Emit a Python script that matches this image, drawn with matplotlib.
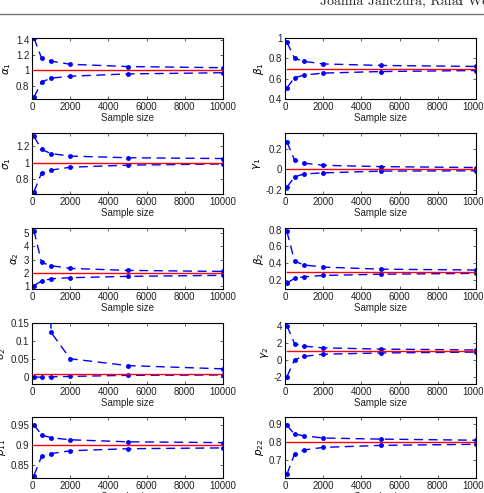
import numpy as np
import matplotlib
matplotlib.use('Agg')
import matplotlib.pyplot as plt
from matplotlib.lines import Line2D

# sample sizes used in the simulation
n = [100, 500, 1000, 2000, 5000, 10000]

# upper / lower bands and true value for every parameter
a1_up = [1.42, 1.16, 1.12, 1.08, 1.05, 1.035]
a1_lo = [0.65, 0.85, 0.90, 0.925, 0.955, 0.97]
b1_up = [0.96, 0.80, 0.77, 0.745, 0.73, 0.72]
b1_lo = [0.51, 0.61, 0.635, 0.655, 0.67, 0.68]
s1_up = [1.32, 1.16, 1.11, 1.08, 1.06, 1.05]
s1_lo = [0.645, 0.875, 0.91, 0.945, 0.97, 0.985]
g1_up = [0.265, 0.09, 0.06, 0.04, 0.027, 0.018]
g1_lo = [-0.17, -0.072, -0.043, -0.033, -0.016, -0.013]
a2_up = [5.2, 2.8, 2.55, 2.35, 2.2, 2.12]
a2_lo = [1.05, 1.4, 1.57, 1.65, 1.75, 1.83]
b2_up = [0.78, 0.425, 0.38, 0.355, 0.33, 0.32]
b2_lo = [0.165, 0.22, 0.24, 0.255, 0.27, 0.28]
s2_up = [2.5, 1.0, 0.124, 0.051, 0.032, 0.023]
s2_lo = [0.0, 0.0, 0.001, 0.002, 0.005, 0.006]
g2_up = [4.0, 1.9, 1.6, 1.4, 1.25, 1.15]
g2_lo = [-2.0, 0.0, 0.4, 0.65, 0.8, 0.9]
p11_up = [0.95, 0.925, 0.918, 0.913, 0.908, 0.906]
p11_lo = [0.825, 0.872, 0.879, 0.886, 0.891, 0.893]
p22_up = [0.89, 0.843, 0.834, 0.822, 0.816, 0.81]
p22_lo = [0.625, 0.735, 0.757, 0.771, 0.782, 0.788]

true_vals = [1, 0.7, 1, 0, 2, 0.3, 0.01, 1, 0.9, 0.8]
labels = [r'$\alpha_1$', r'$\beta_1$', r'$\sigma_1$', r'$\gamma_1$', r'$\alpha_2$',
          r'$\beta_2$', r'$\sigma_2$', r'$\gamma_2$', r'$p_{11}$', r'$p_{22}$']
uppers = [a1_up, b1_up, s1_up, g1_up, a2_up, b2_up, s2_up, g2_up, p11_up, p22_up]
lowers = [a1_lo, b1_lo, s1_lo, g1_lo, a2_lo, b2_lo, s2_lo, g2_lo, p11_lo, p22_lo]
ylims = [(0.63, 1.42), (0.4, 1.0), (0.62, 1.36), (-0.236, 0.35), (0.8, 5.39),
         (0.094, 0.82), (-0.019, 0.15), (-2.85, 4.32), (0.819, 0.969), (0.605, 0.936)]
yticks = [[0.8, 1, 1.2, 1.4], [0.4, 0.6, 0.8, 1], [0.8, 1, 1.2], [-0.2, 0, 0.2],
          [1, 2, 3, 4, 5], [0.2, 0.4, 0.6, 0.8], [0, 0.05, 0.1, 0.15],
          [-2, 0, 2, 4], [0.85, 0.9, 0.95], [0.7, 0.8, 0.9]]
yticklabels = [['0.8', '1', '1.2', '1.4'], ['0.4', '0.6', '0.8', '1'], ['0.8', '1', '1.2'],
               ['-0.2', '0', '0.2'], ['1', '2', '3', '4', '5'], ['0.2', '0.4', '0.6', '0.8'],
               ['0', '0.05', '0.1', '0.15'], ['-2', '0', '2', '4'],
               ['0.85', '0.9', '0.95'], ['0.7', '0.8', '0.9']]

W, H = 484, 493
fig = plt.figure(figsize=(W / 100, H / 100), dpi=100)
plt.rcParams['font.family'] = 'Liberation Sans'

# header of the scanned page (cut at the top and right edge)
fig.text(320 / W, 1 - 4 / H, 'Joanna Janczura, Rafa\u0142 Weron', family=['cmr10', 'DejaVu Serif'],
         fontsize=10, ha='left', va='baseline', color='#222222')
fig.add_artist(Line2D([0, 1], [1 - 13.5 / H, 1 - 13.5 / H], color='#777777', lw=1.0,
                      transform=fig.transFigure))

col_x = [32, 285]
col_w = 191
row_top = [38, 133, 228, 323, 417]
row_h = 61

for i in range(10):
    r, c = i // 2, i % 2
    ax = fig.add_axes([col_x[c] / W, 1 - (row_top[r] + row_h) / H, col_w / W, row_h / H])
    ax.plot(n, uppers[i], color='blue', ls=(0, (6.5, 4)), lw=1, marker='.', ms=5)
    ax.plot(n, lowers[i], color='blue', ls=(0, (6.5, 4)), lw=1, marker='.', ms=5)
    ax.plot(n, [true_vals[i]] * len(n), color='red', lw=1)
    ax.set_xlim(0, 10000)
    ax.set_ylim(*ylims[i])
    ax.set_xticks([0, 2000, 4000, 6000, 8000, 10000])
    ax.set_yticks(yticks[i])
    ax.set_yticklabels(yticklabels[i])
    ax.tick_params(direction='in', top=True, right=True, labelsize=7, length=2,
                   width=0.5, pad=2, colors='#222222')
    ax.set_xlabel('Sample size', fontsize=7, labelpad=1, color='#222222')
    ax.set_ylabel(labels[i], fontsize=7.5, labelpad=2)
    for s in ax.spines.values():
        s.set_linewidth(0.8)

fig.savefig('out.png', dpi=100)
